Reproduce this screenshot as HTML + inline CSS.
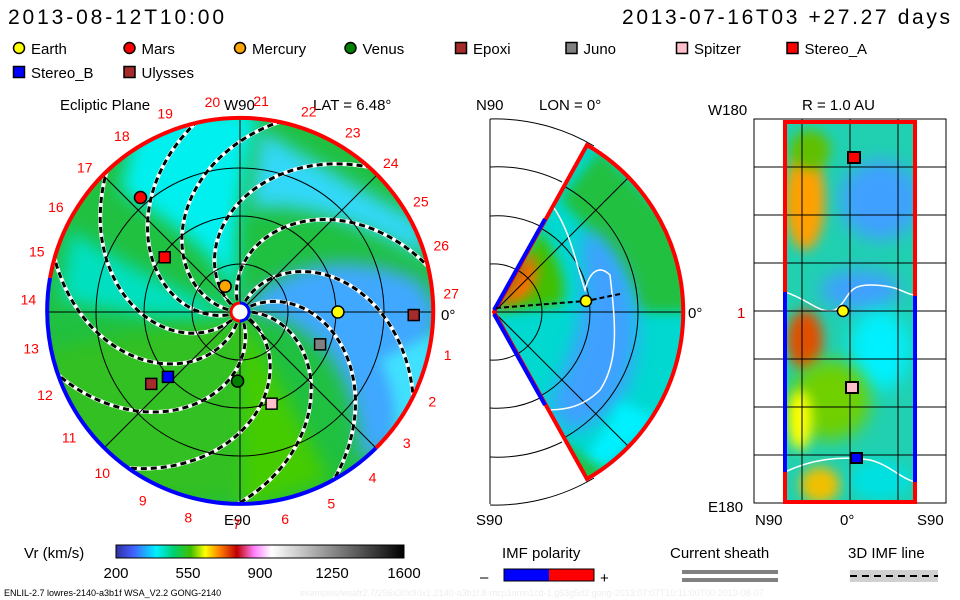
<!DOCTYPE html>
<html><head><meta charset="utf-8"><style>
body{margin:0;background:#fff}
svg{display:block;font-family:"Liberation Sans",sans-serif}
</style></head><body>
<svg id="s" width="960" height="600" viewBox="0 0 960 600" xmlns="http://www.w3.org/2000/svg">
<defs>
<filter id="bl" x="-50%" y="-50%" width="200%" height="200%"><feGaussianBlur stdDeviation="9"/></filter>
<filter id="bl2" x="-50%" y="-50%" width="200%" height="200%"><feGaussianBlur stdDeviation="6"/></filter>
<clipPath id="cc"><circle cx="240" cy="312" r="193"/></clipPath>
<clipPath id="wc"><path d="M494,312 L587,145 A193,193 0 0 1 587,479 Z"/></clipPath>
<clipPath id="rc"><rect x="785" y="122" width="130" height="380"/></clipPath>
<linearGradient id="cb" x1="0" x2="1">
<stop offset="0" stop-color="#3030a0"/><stop offset="0.06" stop-color="#4060ff"/><stop offset="0.14" stop-color="#00f0ff"/><stop offset="0.2" stop-color="#00d070"/><stop offset="0.26" stop-color="#40c000"/><stop offset="0.31" stop-color="#ffff00"/><stop offset="0.36" stop-color="#ff8000"/><stop offset="0.42" stop-color="#c00000"/><stop offset="0.48" stop-color="#ff80ff"/><stop offset="0.54" stop-color="#ffffff"/><stop offset="1" stop-color="#000000"/>
</linearGradient>
</defs>
<g>
<text x="8" y="24" font-size="21" textLength="216">2013-08-12T10:00</text>
<text x="622" y="24" font-size="21" textLength="328">2013-07-16T03 +27.27 days</text>
</g>
<g id="legend"></g>
<g>
<text x="60" y="110" font-size="15">Ecliptic Plane</text>
<text x="224" y="110" font-size="15">W90</text>
<text x="313" y="110" font-size="15">LAT = 6.48°</text>
<text x="224" y="525" font-size="15">E90</text>
<g clip-path="url(#cc)">
<circle cx="240" cy="312" r="193" fill="#20c040"/>
<path d="M240,312 L240,500 L120,500 L40,420 L47,350 Z" fill="#30c020" filter="url(#bl)"/>
<path d="M240,312 L330,480 L240,510 Z" fill="#44cc00" filter="url(#bl)"/>
<path d="M240,312 C220,250 180,230 120,190 L140,110 L260,110 C240,180 230,250 240,312 Z" fill="#00f0f0" filter="url(#bl)"/>
<path d="M240,312 C200,300 150,280 70,230 L60,300 C150,320 200,320 240,312Z" fill="#00e0c0" filter="url(#bl)"/>
<path d="M245,305 C290,260 350,250 420,280 L440,312 C420,380 410,420 390,450 L360,460 C360,380 320,320 250,312Z" fill="#40a8ff" filter="url(#bl)"/>
<path d="M260,130 C300,150 340,180 420,220 L430,260 C350,220 300,200 250,210Z" fill="#30d8f8" filter="url(#bl)"/>
<path d="M380,360 C400,400 400,440 380,470 L420,440 L440,330 Z" fill="#40e0ff" filter="url(#bl2)"/>
<g id="spirals"></g>
<g stroke="#000" stroke-width="1" fill="none">
<circle cx="240" cy="312" r="48"/><circle cx="240" cy="312" r="96"/><circle cx="240" cy="312" r="144"/>
<line x1="47" y1="312" x2="433" y2="312"/><line x1="240" y1="119" x2="240" y2="505"/>
<line x1="104" y1="176" x2="376" y2="448"/><line x1="104" y1="448" x2="376" y2="176"/>
</g>
</g>
<path d="M376,448 A193,193 0 1 0 50,278" stroke="#ff0000" stroke-width="4" fill="none"/>
<path d="M50,278 A193,193 0 0 0 376,448" stroke="#0000ff" stroke-width="4" fill="none"/>
<g>
<circle cx="240" cy="312" r="8" fill="#fff"/>
<path d="M240,303 A9,9 0 0 0 240,321" stroke="#ff0000" stroke-width="3" fill="none"/>
<path d="M240,303 A9,9 0 0 1 240,321" stroke="#0000ff" stroke-width="3" fill="none"/>
</g>
<g id="daylabels" font-size="14" fill="#ff0000"></g>
<text x="441" y="320" font-size="15">0°</text>
<g id="planets"></g>
</g>
<g>
<text x="476" y="110" font-size="15">N90</text>
<text x="539" y="110" font-size="15">LON = 0°</text>
<text x="476" y="525" font-size="15">S90</text>
<text x="688" y="318" font-size="15">0°</text>
<g stroke="#000" fill="none" stroke-width="1">
<line x1="490" y1="119" x2="490" y2="504"/>
<path d="M490,119 A193,193 0 0 1 594,146"/><path d="M490,167 A145,145 0 0 1 562,182"/><path d="M490,216 A96,96 0 0 1 540,226"/><path d="M490,264 A48,48 0 0 1 520,272"/>
<path d="M490,505 A193,193 0 0 0 594,478"/><path d="M490,457 A145,145 0 0 0 562,442"/><path d="M490,408 A96,96 0 0 0 540,398"/><path d="M490,360 A48,48 0 0 0 520,352"/>
</g>
<g clip-path="url(#wc)">
<rect x="490" y="140" width="200" height="345" fill="#00d8d0"/>
<path d="M600,150 L690,240 L690,312 L640,312 C620,260 590,230 560,200Z" fill="#20c040" filter="url(#bl2)"/>
<path d="M590,230 C640,260 650,340 620,400 C580,440 560,440 550,400 C580,340 590,300 580,240Z" fill="#40a0ff" filter="url(#bl)"/>
<path d="M620,400 C600,450 560,470 590,480 L660,420 Z" fill="#00f0ff" filter="url(#bl2)"/>
<path d="M494,312 L540,230 C560,260 570,290 560,305Z" fill="#40c000" filter="url(#bl2)"/>
<path d="M497,308 L530,250 C540,265 540,290 520,300Z" fill="#ff7000" filter="url(#bl2)"/>
<path d="M500,300 L525,262" stroke="#d03000" stroke-width="5" filter="url(#bl2)"/>
<path d="M560,440 C600,470 620,470 600,485 L560,480Z" fill="#20c040" filter="url(#bl2)"/>
<g stroke="#000" fill="none"><circle cx="494" cy="312" r="48"/><circle cx="494" cy="312" r="96"/><circle cx="494" cy="312" r="144"/><line x1="494" y1="312" x2="690" y2="312"/><line x1="494" y1="312" x2="640" y2="166"/><line x1="494" y1="312" x2="640" y2="458"/></g>
<path d="M552,205 C570,230 575,260 585,290 C590,270 600,265 610,275 C615,320 620,360 600,390 C580,410 560,410 540,410" stroke="#fff" stroke-width="1.5" fill="none"/>
</g>
<path d="M494,312 L587,145 A193,193 0 0 1 587,479 Z" fill="none" stroke="#ff0000" stroke-width="4"/>
<line x1="494" y1="310" x2="545" y2="219" stroke="#0000ff" stroke-width="4"/>
<line x1="494" y1="314" x2="545" y2="405" stroke="#0000ff" stroke-width="4"/>
<path d="M496,308 L586,301 L620,294" stroke="#000" stroke-width="2" stroke-dasharray="5,3" fill="none"/>
<circle cx="586" cy="301" r="5.5" fill="#ffff00" stroke="#000" stroke-width="1.5"/>
</g>
<g>
<text x="802" y="110" font-size="15">R = 1.0 AU</text>
<text x="708" y="115" font-size="15">W180</text>
<text x="708" y="512" font-size="15">E180</text>
<text x="755" y="525" font-size="15">N90</text><text x="840" y="525" font-size="15">0°</text><text x="917" y="525" font-size="15">S90</text>
<text x="737" y="318" font-size="15" fill="#cc0000">1</text>
<g clip-path="url(#rc)">
<rect x="785" y="122" width="130" height="380" fill="#20d0b0"/>
<ellipse cx="805" cy="200" rx="20" ry="50" fill="#ffa000" filter="url(#bl2)"/>
<ellipse cx="810" cy="150" rx="20" ry="20" fill="#60c000" filter="url(#bl2)"/>
<ellipse cx="880" cy="200" rx="40" ry="40" fill="#40a0ff" filter="url(#bl)"/>
<ellipse cx="860" cy="290" rx="40" ry="20" fill="#40a0ff" filter="url(#bl)"/>
<ellipse cx="880" cy="350" rx="30" ry="40" fill="#00f0ff" filter="url(#bl)"/>
<ellipse cx="805" cy="340" rx="18" ry="30" fill="#e05000" filter="url(#bl2)"/>
<ellipse cx="830" cy="400" rx="40" ry="40" fill="#70d000" filter="url(#bl)"/>
<ellipse cx="800" cy="420" rx="12" ry="30" fill="#ffff00" filter="url(#bl2)"/>
<ellipse cx="820" cy="485" rx="20" ry="18" fill="#f0c000" filter="url(#bl2)"/>
<ellipse cx="880" cy="480" rx="30" ry="20" fill="#00e0e0" filter="url(#bl2)"/>
<path d="M785,292 C810,300 820,315 835,310 C850,300 845,285 870,285 C900,285 905,295 915,295" stroke="#fff" stroke-width="1.5" fill="none"/>
<path d="M785,472 C810,460 840,455 870,460 C890,465 900,478 915,482" stroke="#fff" stroke-width="1.5" fill="none"/>
</g>
<g stroke="#000" fill="none" stroke-width="1">
<rect x="754" y="119" width="192" height="384"/>
<line x1="802" y1="119" x2="802" y2="503"/><line x1="850" y1="119" x2="850" y2="503"/><line x1="898" y1="119" x2="898" y2="503"/>
<line x1="754" y1="167" x2="946" y2="167"/><line x1="754" y1="215" x2="946" y2="215"/><line x1="754" y1="263" x2="946" y2="263"/><line x1="754" y1="311" x2="946" y2="311"/><line x1="754" y1="359" x2="946" y2="359"/><line x1="754" y1="407" x2="946" y2="407"/><line x1="754" y1="455" x2="946" y2="455"/>
</g>
<rect x="785" y="122" width="130" height="380" fill="none" stroke="#ff0000" stroke-width="4"/>
<line x1="785" y1="292" x2="785" y2="472" stroke="#0000ff" stroke-width="4"/>
<line x1="915" y1="296" x2="915" y2="482" stroke="#0000ff" stroke-width="4"/>
<rect x="848" y="152" width="12" height="11" fill="#ff0000" stroke="#000" stroke-width="2"/>
<circle cx="843" cy="311" r="5.5" fill="#ffff00" stroke="#000" stroke-width="1.5"/>
<rect x="846" y="382" width="12" height="11" fill="#ffc0cb" stroke="#000" stroke-width="2"/>
<rect x="851" y="453" width="11" height="10" fill="#0000ff" stroke="#000" stroke-width="2"/>
</g>
<g>
<text x="24" y="558" font-size="15">Vr (km/s)</text>
<rect x="116" y="545" width="288" height="13" fill="url(#cb)" stroke="#000"/>
<g id="cbticks" font-size="15" text-anchor="middle"></g>
</g>
<g>
<text x="502" y="558" font-size="15">IMF polarity</text>
<text x="480" y="582" font-size="15">–</text>
<rect x="504" y="569" width="45" height="12" fill="#0000ff"/><rect x="549" y="569" width="45" height="12" fill="#ff0000"/>
<rect x="504" y="569" width="90" height="12" fill="none" stroke="#000"/>
<text x="600" y="583" font-size="15">+</text>
<text x="670" y="558" font-size="15">Current sheath</text>
<rect x="682" y="570" width="96" height="4" fill="#808080"/><rect x="682" y="578" width="96" height="4" fill="#808080"/>
<text x="848" y="558" font-size="15">3D IMF line</text>
<rect x="850" y="570" width="88" height="12" fill="#d0d0d0"/>
<line x1="850" y1="576" x2="938" y2="576" stroke="#000" stroke-width="2" stroke-dasharray="7,5"/>
</g>
<text x="4" y="596" font-size="9">ENLIL-2.7 lowres-2140-a3b1f WSA_V2.2 GONG-2140</text>
<text x="300" y="596" font-size="9" fill="#eeeeee">examples/wsafr2.7/256x30x90x1.2140-a3b1f.8-mcp1umn1cd-1.g53g5d2.gong-2013:07:07T10:11:00T00   2013-08-07</text>
<script>
const NS='http://www.w3.org/2000/svg';
const legendNames=['Earth','Mars','Mercury','Venus','Epoxi','Juno','Spitzer','Stereo_A','Stereo_B','Ulysses'];
const legendColors=['#ffff00','#ff0000','#ffa500','#008000','#a52a2a','#808080','#ffc0cb','#ff0000','#0000ff','#a52a2a'];
const legendShapes=['c','c','c','c','s','s','s','s','s','s'];
// planet positions in ecliptic panel: angle (deg, math convention), radius (AU, 1 AU = 96px)
const planetAng=[0,131,120,-92,-1,-22,-71,144,-138,-141];
const planetR=[1.02,1.58,0.31,0.72,1.81,0.9,1.01,0.97,1.01,1.19];
const dayNums=[0,1,2,3,4,5,6,7,8,9,10,11,12,13,14,15,16,17,18,19,20,21,22,23,24,25,26,27];
const spiralStarts=[5,35,70,110,145,175,200,230,260,295,330];
const cbTicks=[200,550,900,1250,1600];
const cx=240,cy=312,AU=96;
function mk(t,a,p){const e=document.createElementNS(NS,t);for(const k in a)e.setAttribute(k,a[k]);(p||document.getElementById('s')).appendChild(e);return e;}
function px(ang,r){const a=ang*Math.PI/180;return [cx+r*Math.cos(a),cy-r*Math.sin(a)];}
function marker(g,shape,x,y,col,sz){
  if(shape==='c') return mk('circle',{cx:x,cy:y,r:sz/2,fill:col,stroke:'#000','stroke-width':1.5},g);
  return mk('rect',{x:x-sz/2,y:y-sz/2,width:sz,height:sz,fill:col,stroke:'#000','stroke-width':1.5},g);
}
// legend
const lg=document.getElementById('legend');
legendNames.forEach((n,i)=>{
  const row=i<8?0:1, col=i<8?i:i-8;
  const x=19+col*110.5, y=row?72:48;
  const m=marker(lg,legendShapes[i],x,y,legendColors[i],11);
  
  
  const t=mk('text',{x:x+12,y:y+6,'font-size':15},lg);t.textContent=n;
  
  
});
// spirals
const sg=document.getElementById('spirals');
spiralStarts.forEach(a0=>{
  let d='';
  for(let r=12;r<=200;r+=3){const [x,y]=px(a0-(r/115)*180/Math.PI,r);d+=(d?'L':'M')+x.toFixed(1)+','+y.toFixed(1);}
  mk('path',{d:d,stroke:'#fff',fill:'none','stroke-width':4},sg);
  const p=mk('path',{d:d,stroke:'#000',fill:'none','stroke-width':3,'stroke-dasharray':'6,4'},sg);
  
  
});
// day labels
const dg=document.getElementById('daylabels');
dayNums.forEach(n=>{
  if(n===0)return;
  const [x,y]=px(1.5-n*360/27.27,212);
  const t=mk('text',{x:x,y:y+5,'text-anchor':'middle'},dg);t.textContent=n;
  
  
});
// planets
const pg=document.getElementById('planets');
legendNames.forEach((n,i)=>{
  const [x,y]=px(planetAng[i],planetR[i]*AU);
  const m=marker(pg,legendShapes[i],x,y,legendColors[i],legendShapes[i]==='c'?12:11);
  
  
});
// colorbar ticks
const cg=document.getElementById('cbticks');
cbTicks.forEach(v=>{
  const x=116+(v-200)/(1600-200)*288;
  const t=mk('text',{x:x,y:578},cg);t.textContent=v;
  
  
});
</script>
</svg>
</body></html>
